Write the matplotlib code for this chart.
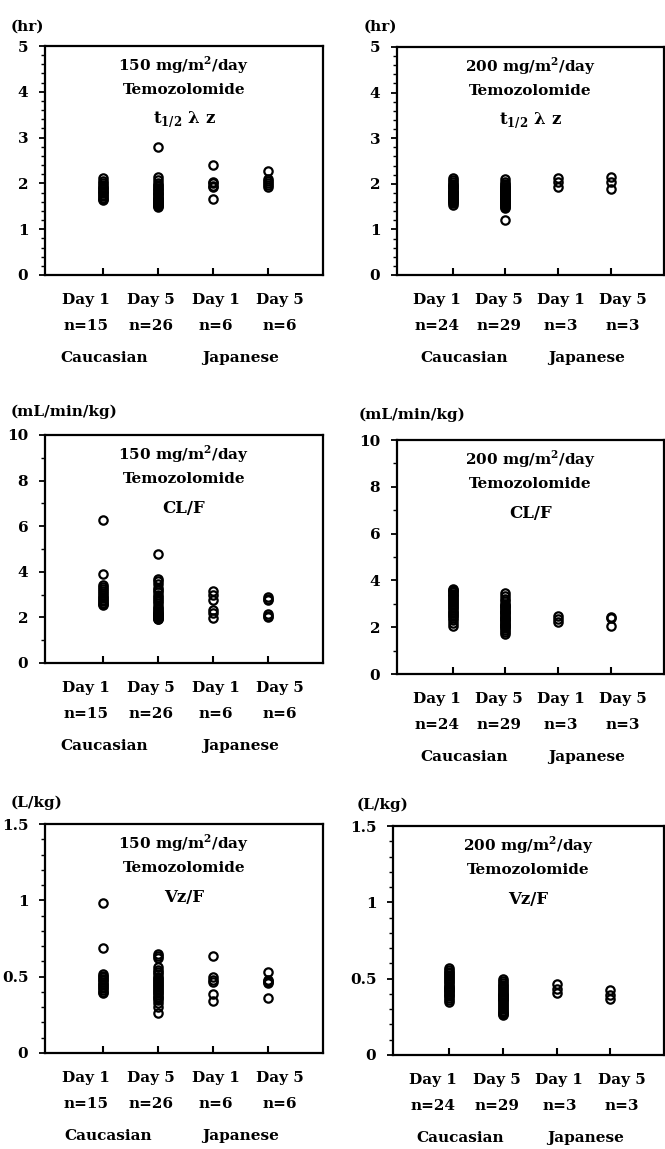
import matplotlib
matplotlib.use("Agg")
import matplotlib.pyplot as plt
from matplotlib.ticker import MultipleLocator

plt.rcParams['font.family'] = 'DejaVu Serif'
plt.rcParams['font.weight'] = 'bold'
plt.rcParams['mathtext.fontset'] = 'custom'
plt.rcParams['mathtext.rm'] = 'DejaVu Serif:bold'
plt.rcParams['mathtext.bf'] = 'DejaVu Serif:bold'

# groups along x
days = ["Day 1", "Day 5", "Day 1", "Day 5"]
n_150 = ["n=15", "n=26", "n=6", "n=6"]
n_200 = ["n=24", "n=29", "n=3", "n=3"]
races = ["Caucasian", "Japanese"]

# t1/2 lambda z (hr)
t_150_cau_d1 = [2.12, 2.06, 2.0, 1.97, 1.93, 1.9, 1.87, 1.84, 1.81, 1.78, 1.75, 1.72, 1.69, 1.66, 1.64]
t_150_cau_d5 = [2.80, 2.15, 2.07, 2.0, 1.97, 1.94, 1.91, 1.88, 1.85, 1.82, 1.79, 1.76, 1.74,
                1.71, 1.69, 1.67, 1.65, 1.63, 1.61, 1.59, 1.57, 1.55, 1.53, 1.52, 1.50, 1.49]
t_150_jpn_d1 = [2.40, 2.04, 2.0, 1.95, 1.92, 1.67]
t_150_jpn_d5 = [2.26, 2.1, 2.05, 2.0, 1.96, 1.93]

t_200_cau_d1 = [2.12, 2.08, 2.04, 2.0, 1.97, 1.95, 1.92, 1.9, 1.88, 1.85, 1.83, 1.81,
                1.79, 1.77, 1.75, 1.73, 1.71, 1.69, 1.67, 1.65, 1.62, 1.6, 1.57, 1.54]
t_200_cau_d5 = [2.10, 2.05, 2.0, 1.97, 1.94, 1.92, 1.9, 1.88, 1.86, 1.84, 1.82, 1.8, 1.78, 1.76,
                1.74, 1.72, 1.7, 1.68, 1.66, 1.64, 1.62, 1.6, 1.58, 1.56, 1.54, 1.52, 1.5, 1.48, 1.21]
t_200_jpn_d1 = [2.12, 2.04, 1.94]
t_200_jpn_d5 = [2.16, 2.05, 1.89]

# CL/F (mL/min/kg)
cl_150_cau_d1 = [6.26, 3.92, 3.43, 3.35, 3.25, 3.15, 3.05, 2.98, 2.9, 2.83, 2.76, 2.7, 2.65, 2.6, 2.56]
cl_150_cau_d5 = [4.79, 3.68, 3.58, 3.45, 3.3, 3.2, 3.1, 3.0, 2.9, 2.8, 2.72, 2.62, 2.5,
                 2.42, 2.35, 2.3, 2.25, 2.2, 2.15, 2.1, 2.07, 2.04, 2.01, 1.98, 1.95, 1.93]
cl_150_jpn_d1 = [3.14, 3.0, 2.78, 2.34, 2.2, 1.97]
cl_150_jpn_d5 = [2.89, 2.82, 2.75, 2.15, 2.08, 2.02]

cl_200_cau_d1 = [3.65, 3.6, 3.55, 3.5, 3.44, 3.38, 3.32, 3.26, 3.2, 3.13, 3.06, 3.0,
                 2.93, 2.86, 2.8, 2.73, 2.66, 2.6, 2.53, 2.46, 2.4, 2.3, 2.2, 2.07]
cl_200_cau_d5 = [3.46, 3.35, 3.2, 3.1, 3.0, 2.95, 2.9, 2.85, 2.8, 2.75, 2.7, 2.65, 2.6, 2.55, 2.5,
                 2.45, 2.4, 2.35, 2.3, 2.25, 2.2, 2.15, 2.1, 2.05, 2.0, 1.95, 1.9, 1.8, 1.72]
cl_200_jpn_d1 = [2.5, 2.36, 2.22]
cl_200_jpn_d5 = [2.45, 2.38, 2.03]

# Vz/F (L/kg)
vz_150_cau_d1 = [0.984, 0.69, 0.516, 0.505, 0.495, 0.485, 0.475, 0.465, 0.455, 0.445, 0.435, 0.425, 0.415, 0.4, 0.39]
vz_150_cau_d5 = [0.648, 0.635, 0.62, 0.564, 0.545, 0.53, 0.515, 0.5, 0.49, 0.48, 0.47, 0.46, 0.45,
                 0.44, 0.43, 0.42, 0.41, 0.4, 0.39, 0.38, 0.37, 0.36, 0.346, 0.33, 0.30, 0.265]
vz_150_jpn_d1 = [0.634, 0.495, 0.48, 0.466, 0.385, 0.341]
vz_150_jpn_d5 = [0.531, 0.48, 0.47, 0.466, 0.46, 0.357]

vz_200_cau_d1 = [0.572, 0.56, 0.545, 0.535, 0.525, 0.515, 0.505, 0.495, 0.485, 0.475, 0.465, 0.455,
                 0.447, 0.44, 0.432, 0.425, 0.417, 0.41, 0.402, 0.395, 0.385, 0.375, 0.362, 0.349]
vz_200_cau_d5 = [0.496, 0.485, 0.47, 0.46, 0.45, 0.44, 0.43, 0.42, 0.41, 0.40, 0.395, 0.39, 0.385, 0.38,
                 0.375, 0.37, 0.365, 0.36, 0.35, 0.34, 0.33, 0.32, 0.31, 0.30, 0.29, 0.28, 0.275, 0.268, 0.262]
vz_200_jpn_d1 = [0.463, 0.43, 0.405]
vz_200_jpn_d5 = [0.425, 0.395, 0.365]

W, H = 665, 1149
fig = plt.figure(figsize=(W / 100, H / 100), dpi=100)

def px_axes(left, top, right, bottom):
    return fig.add_axes([left / W, 1 - bottom / H, (right - left) / W, (bottom - top) / H])

def panel(box, groups, ymax, major, minor, dose, param, ns, unit, unit_xy, race_x):
    ax = px_axes(*box)
    for i, vals in enumerate(groups):
        ax.plot([i + 1] * len(vals), vals, 'o', ms=6, mfc='none', mec='black', mew=1.6,
                linestyle='none', clip_on=False)
    ax.set_xlim(-0.05, 5.0)
    ax.set_ylim(0, ymax)
    ax.yaxis.set_major_locator(MultipleLocator(major))
    ax.yaxis.set_minor_locator(MultipleLocator(minor))
    ax.yaxis.set_major_formatter(plt.FuncFormatter(lambda v, p: f"{v:g}"))
    ax.set_xticks([1, 2, 3, 4])
    ax.set_xticklabels([])
    ax.tick_params(axis='x', direction='in', length=5, width=1.5)
    ax.tick_params(axis='y', which='major', direction='out', length=4, width=1.3,
                   pad=8, labelsize=11)
    ax.tick_params(axis='y', which='minor', direction='out', length=3, width=1.0)
    for s in ax.spines.values():
        s.set_linewidth(1.6)

    # header text inside the box
    ax.annotate(dose, xy=(0.5, 1), xycoords='axes fraction', xytext=(0, -14),
                textcoords='offset points', ha='center', va='center', fontsize=11)
    ax.annotate("Temozolomide", xy=(0.5, 1), xycoords='axes fraction', xytext=(0, -32),
                textcoords='offset points', ha='center', va='center', fontsize=11)
    ax.annotate(param, xy=(0.5, 1), xycoords='axes fraction', xytext=(0, -53),
                textcoords='offset points', ha='center', va='center', fontsize=12)

    # group labels under the box
    trans = ax.get_xaxis_transform()
    for x, d, n in zip([0.7, 1.88, 3.05, 4.22], days, ns):
        ax.annotate(d, xy=(x, 0), xycoords=trans, xytext=(0, -18), textcoords='offset points',
                    ha='center', va='center', fontsize=11, annotation_clip=False)
        ax.annotate(n, xy=(x, 0), xycoords=trans, xytext=(0, -37), textcoords='offset points',
                    ha='center', va='center', fontsize=11, annotation_clip=False)
    for x, r in zip(race_x, races):
        ax.annotate(r, xy=(x, 0), xycoords=trans, xytext=(0, -60), textcoords='offset points',
                    ha='center', va='center', fontsize=11, annotation_clip=False)

    fig.text(unit_xy[0] / W, 1 - unit_xy[1] / H, unit, ha='left', va='center', fontsize=11)
    return ax

t_label = r"t$_{\mathbf{1/2}}$ λ z"
d150 = r"150 mg/m$^{2}$/day"
d200 = r"200 mg/m$^{2}$/day"

panel((45, 46, 323, 275), [t_150_cau_d1, t_150_cau_d5, t_150_jpn_d1, t_150_jpn_d5],
      5, 1, 0.2, d150, t_label, n_150, "(hr)", (11, 27), [1.02, 3.51])
panel((397, 47, 664, 275), [t_200_cau_d1, t_200_cau_d5, t_200_jpn_d1, t_200_jpn_d5],
      5, 1, 0.2, d200, t_label, n_200, "(hr)", (364, 27), [1.22, 3.54])

panel((45, 435, 323, 663), [cl_150_cau_d1, cl_150_cau_d5, cl_150_jpn_d1, cl_150_jpn_d5],
      10, 2, 1, d150, "CL/F", n_150, "(mL/min/kg)", (11, 412), [1.02, 3.51])
panel((397, 440, 664, 674), [cl_200_cau_d1, cl_200_cau_d5, cl_200_jpn_d1, cl_200_jpn_d5],
      10, 2, 1, d200, "CL/F", n_200, "(mL/min/kg)", (359, 415), [1.22, 3.54])

panel((45, 824, 323, 1053), [vz_150_cau_d1, vz_150_cau_d5, vz_150_jpn_d1, vz_150_jpn_d5],
      1.5, 0.5, 0.1, d150, "Vz/F", n_150, "(L/kg)", (11, 803), [1.1, 3.51])
panel((393, 826, 664, 1055), [vz_200_cau_d1, vz_200_cau_d5, vz_200_jpn_d1, vz_200_jpn_d5],
      1.5, 0.5, 0.1, d200, "Vz/F", n_200, "(L/kg)", (357, 805), [1.2, 3.54])

fig.savefig("out.png", dpi=100)
